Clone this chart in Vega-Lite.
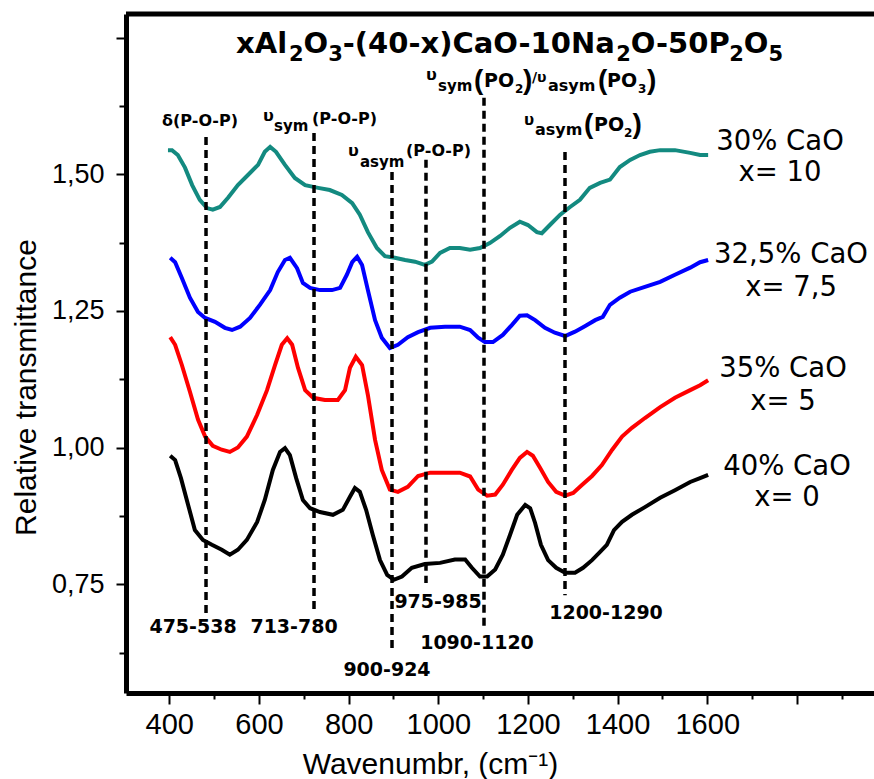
{
"$schema": "https://vega.github.io/schema/vega-lite/v6.json",
"width": 748, "height": 679,
"autosize": {"type": "none"},
"padding": {"left": 126, "top": 14, "right": 0, "bottom": 86},
"background": "white",
"datasets": {
"one": [{}],
"spectra": [
{"s":"30% CaO","w":397,"t":1.544},{"s":"30% CaO","w":406,"t":1.544},{"s":"30% CaO","w":419,"t":1.535},{"s":"30% CaO","w":435,"t":1.512},{"s":"30% CaO","w":451,"t":1.480},{"s":"30% CaO","w":468,"t":1.453},{"s":"30% CaO","w":484,"t":1.438},{"s":"30% CaO","w":497,"t":1.435},{"s":"30% CaO","w":513,"t":1.440},{"s":"30% CaO","w":531,"t":1.457},{"s":"30% CaO","w":553,"t":1.480},{"s":"30% CaO","w":576,"t":1.499},{"s":"30% CaO","w":598,"t":1.517},{"s":"30% CaO","w":613,"t":1.541},{"s":"30% CaO","w":625,"t":1.550},{"s":"30% CaO","w":638,"t":1.541},{"s":"30% CaO","w":658,"t":1.517},{"s":"30% CaO","w":680,"t":1.493},{"s":"30% CaO","w":703,"t":1.480},{"s":"30% CaO","w":732,"t":1.475},{"s":"30% CaO","w":758,"t":1.471},{"s":"30% CaO","w":785,"t":1.462},{"s":"30% CaO","w":808,"t":1.447},{"s":"30% CaO","w":825,"t":1.426},{"s":"30% CaO","w":843,"t":1.394},{"s":"30% CaO","w":863,"t":1.365},{"s":"30% CaO","w":881,"t":1.350},{"s":"30% CaO","w":903,"t":1.347},{"s":"30% CaO","w":926,"t":1.343},{"s":"30% CaO","w":948,"t":1.340},{"s":"30% CaO","w":970,"t":1.334},{"s":"30% CaO","w":986,"t":1.340},{"s":"30% CaO","w":1004,"t":1.356},{"s":"30% CaO","w":1026,"t":1.365},{"s":"30% CaO","w":1048,"t":1.365},{"s":"30% CaO","w":1071,"t":1.362},{"s":"30% CaO","w":1093,"t":1.365},{"s":"30% CaO","w":1115,"t":1.374},{"s":"30% CaO","w":1138,"t":1.387},{"s":"30% CaO","w":1160,"t":1.402},{"s":"30% CaO","w":1182,"t":1.413},{"s":"30% CaO","w":1200,"t":1.407},{"s":"30% CaO","w":1220,"t":1.394},{"s":"30% CaO","w":1231,"t":1.392},{"s":"30% CaO","w":1249,"t":1.407},{"s":"30% CaO","w":1272,"t":1.426},{"s":"30% CaO","w":1294,"t":1.440},{"s":"30% CaO","w":1316,"t":1.453},{"s":"30% CaO","w":1338,"t":1.475},{"s":"30% CaO","w":1361,"t":1.484},{"s":"30% CaO","w":1383,"t":1.490},{"s":"30% CaO","w":1405,"t":1.513},{"s":"30% CaO","w":1428,"t":1.526},{"s":"30% CaO","w":1450,"t":1.535},{"s":"30% CaO","w":1472,"t":1.541},{"s":"30% CaO","w":1495,"t":1.544},{"s":"30% CaO","w":1528,"t":1.544},{"s":"30% CaO","w":1562,"t":1.539},{"s":"30% CaO","w":1584,"t":1.535},{"s":"30% CaO","w":1602,"t":1.535},
{"s":"32,5% CaO","w":402,"t":1.347},{"s":"32,5% CaO","w":413,"t":1.339},{"s":"32,5% CaO","w":428,"t":1.310},{"s":"32,5% CaO","w":446,"t":1.274},{"s":"32,5% CaO","w":464,"t":1.248},{"s":"32,5% CaO","w":480,"t":1.237},{"s":"32,5% CaO","w":502,"t":1.230},{"s":"32,5% CaO","w":524,"t":1.219},{"s":"32,5% CaO","w":540,"t":1.215},{"s":"32,5% CaO","w":558,"t":1.221},{"s":"32,5% CaO","w":580,"t":1.237},{"s":"32,5% CaO","w":602,"t":1.261},{"s":"32,5% CaO","w":625,"t":1.288},{"s":"32,5% CaO","w":642,"t":1.321},{"s":"32,5% CaO","w":658,"t":1.343},{"s":"32,5% CaO","w":669,"t":1.347},{"s":"32,5% CaO","w":685,"t":1.328},{"s":"32,5% CaO","w":698,"t":1.301},{"s":"32,5% CaO","w":714,"t":1.292},{"s":"32,5% CaO","w":736,"t":1.288},{"s":"32,5% CaO","w":763,"t":1.288},{"s":"32,5% CaO","w":781,"t":1.292},{"s":"32,5% CaO","w":796,"t":1.316},{"s":"32,5% CaO","w":808,"t":1.339},{"s":"32,5% CaO","w":819,"t":1.349},{"s":"32,5% CaO","w":830,"t":1.334},{"s":"32,5% CaO","w":843,"t":1.288},{"s":"32,5% CaO","w":859,"t":1.233},{"s":"32,5% CaO","w":874,"t":1.201},{"s":"32,5% CaO","w":892,"t":1.182},{"s":"32,5% CaO","w":910,"t":1.188},{"s":"32,5% CaO","w":932,"t":1.202},{"s":"32,5% CaO","w":955,"t":1.211},{"s":"32,5% CaO","w":982,"t":1.219},{"s":"32,5% CaO","w":1015,"t":1.221},{"s":"32,5% CaO","w":1048,"t":1.221},{"s":"32,5% CaO","w":1071,"t":1.215},{"s":"32,5% CaO","w":1089,"t":1.201},{"s":"32,5% CaO","w":1104,"t":1.193},{"s":"32,5% CaO","w":1122,"t":1.193},{"s":"32,5% CaO","w":1144,"t":1.206},{"s":"32,5% CaO","w":1164,"t":1.224},{"s":"32,5% CaO","w":1182,"t":1.241},{"s":"32,5% CaO","w":1198,"t":1.242},{"s":"32,5% CaO","w":1216,"t":1.233},{"s":"32,5% CaO","w":1238,"t":1.219},{"s":"32,5% CaO","w":1260,"t":1.210},{"s":"32,5% CaO","w":1283,"t":1.204},{"s":"32,5% CaO","w":1305,"t":1.212},{"s":"32,5% CaO","w":1327,"t":1.222},{"s":"32,5% CaO","w":1350,"t":1.233},{"s":"32,5% CaO","w":1367,"t":1.239},{"s":"32,5% CaO","w":1383,"t":1.261},{"s":"32,5% CaO","w":1405,"t":1.274},{"s":"32,5% CaO","w":1428,"t":1.285},{"s":"32,5% CaO","w":1461,"t":1.294},{"s":"32,5% CaO","w":1495,"t":1.303},{"s":"32,5% CaO","w":1528,"t":1.316},{"s":"32,5% CaO","w":1562,"t":1.329},{"s":"32,5% CaO","w":1584,"t":1.339},{"s":"32,5% CaO","w":1602,"t":1.343},
{"s":"35% CaO","w":402,"t":1.202},{"s":"35% CaO","w":413,"t":1.188},{"s":"35% CaO","w":428,"t":1.151},{"s":"35% CaO","w":446,"t":1.102},{"s":"35% CaO","w":464,"t":1.051},{"s":"35% CaO","w":480,"t":1.020},{"s":"35% CaO","w":497,"t":1.003},{"s":"35% CaO","w":517,"t":0.996},{"s":"35% CaO","w":535,"t":0.992},{"s":"35% CaO","w":553,"t":1.000},{"s":"35% CaO","w":573,"t":1.020},{"s":"35% CaO","w":596,"t":1.060},{"s":"35% CaO","w":618,"t":1.105},{"s":"35% CaO","w":636,"t":1.151},{"s":"35% CaO","w":651,"t":1.188},{"s":"35% CaO","w":663,"t":1.200},{"s":"35% CaO","w":674,"t":1.188},{"s":"35% CaO","w":687,"t":1.146},{"s":"35% CaO","w":703,"t":1.105},{"s":"35% CaO","w":721,"t":1.091},{"s":"35% CaO","w":747,"t":1.087},{"s":"35% CaO","w":776,"t":1.087},{"s":"35% CaO","w":792,"t":1.105},{"s":"35% CaO","w":803,"t":1.146},{"s":"35% CaO","w":816,"t":1.166},{"s":"35% CaO","w":830,"t":1.151},{"s":"35% CaO","w":843,"t":1.096},{"s":"35% CaO","w":859,"t":1.014},{"s":"35% CaO","w":874,"t":0.959},{"s":"35% CaO","w":892,"t":0.923},{"s":"35% CaO","w":910,"t":0.919},{"s":"35% CaO","w":932,"t":0.928},{"s":"35% CaO","w":955,"t":0.948},{"s":"35% CaO","w":982,"t":0.954},{"s":"35% CaO","w":1015,"t":0.954},{"s":"35% CaO","w":1048,"t":0.954},{"s":"35% CaO","w":1071,"t":0.947},{"s":"35% CaO","w":1089,"t":0.923},{"s":"35% CaO","w":1109,"t":0.912},{"s":"35% CaO","w":1127,"t":0.914},{"s":"35% CaO","w":1144,"t":0.932},{"s":"35% CaO","w":1164,"t":0.959},{"s":"35% CaO","w":1182,"t":0.981},{"s":"35% CaO","w":1198,"t":0.992},{"s":"35% CaO","w":1211,"t":0.985},{"s":"35% CaO","w":1227,"t":0.963},{"s":"35% CaO","w":1245,"t":0.937},{"s":"35% CaO","w":1263,"t":0.919},{"s":"35% CaO","w":1283,"t":0.912},{"s":"35% CaO","w":1301,"t":0.917},{"s":"35% CaO","w":1321,"t":0.932},{"s":"35% CaO","w":1343,"t":0.948},{"s":"35% CaO","w":1365,"t":0.968},{"s":"35% CaO","w":1388,"t":0.996},{"s":"35% CaO","w":1410,"t":1.020},{"s":"35% CaO","w":1432,"t":1.036},{"s":"35% CaO","w":1461,"t":1.054},{"s":"35% CaO","w":1495,"t":1.074},{"s":"35% CaO","w":1528,"t":1.091},{"s":"35% CaO","w":1562,"t":1.105},{"s":"35% CaO","w":1584,"t":1.114},{"s":"35% CaO","w":1602,"t":1.123},
{"s":"40% CaO","w":402,"t":0.985},{"s":"40% CaO","w":413,"t":0.977},{"s":"40% CaO","w":426,"t":0.944},{"s":"40% CaO","w":442,"t":0.895},{"s":"40% CaO","w":457,"t":0.849},{"s":"40% CaO","w":475,"t":0.831},{"s":"40% CaO","w":495,"t":0.822},{"s":"40% CaO","w":517,"t":0.813},{"s":"40% CaO","w":535,"t":0.804},{"s":"40% CaO","w":553,"t":0.813},{"s":"40% CaO","w":573,"t":0.831},{"s":"40% CaO","w":596,"t":0.864},{"s":"40% CaO","w":613,"t":0.904},{"s":"40% CaO","w":631,"t":0.959},{"s":"40% CaO","w":647,"t":0.992},{"s":"40% CaO","w":658,"t":0.999},{"s":"40% CaO","w":669,"t":0.986},{"s":"40% CaO","w":683,"t":0.944},{"s":"40% CaO","w":698,"t":0.904},{"s":"40% CaO","w":714,"t":0.889},{"s":"40% CaO","w":736,"t":0.882},{"s":"40% CaO","w":765,"t":0.877},{"s":"40% CaO","w":787,"t":0.886},{"s":"40% CaO","w":803,"t":0.910},{"s":"40% CaO","w":814,"t":0.926},{"s":"40% CaO","w":825,"t":0.919},{"s":"40% CaO","w":839,"t":0.886},{"s":"40% CaO","w":854,"t":0.840},{"s":"40% CaO","w":870,"t":0.794},{"s":"40% CaO","w":886,"t":0.767},{"s":"40% CaO","w":901,"t":0.758},{"s":"40% CaO","w":919,"t":0.764},{"s":"40% CaO","w":941,"t":0.780},{"s":"40% CaO","w":970,"t":0.787},{"s":"40% CaO","w":1004,"t":0.789},{"s":"40% CaO","w":1037,"t":0.795},{"s":"40% CaO","w":1060,"t":0.795},{"s":"40% CaO","w":1075,"t":0.780},{"s":"40% CaO","w":1093,"t":0.764},{"s":"40% CaO","w":1109,"t":0.764},{"s":"40% CaO","w":1127,"t":0.777},{"s":"40% CaO","w":1144,"t":0.804},{"s":"40% CaO","w":1160,"t":0.840},{"s":"40% CaO","w":1176,"t":0.877},{"s":"40% CaO","w":1194,"t":0.895},{"s":"40% CaO","w":1205,"t":0.889},{"s":"40% CaO","w":1216,"t":0.862},{"s":"40% CaO","w":1229,"t":0.822},{"s":"40% CaO","w":1245,"t":0.794},{"s":"40% CaO","w":1263,"t":0.780},{"s":"40% CaO","w":1283,"t":0.771},{"s":"40% CaO","w":1305,"t":0.771},{"s":"40% CaO","w":1323,"t":0.780},{"s":"40% CaO","w":1343,"t":0.794},{"s":"40% CaO","w":1361,"t":0.809},{"s":"40% CaO","w":1376,"t":0.822},{"s":"40% CaO","w":1392,"t":0.849},{"s":"40% CaO","w":1410,"t":0.864},{"s":"40% CaO","w":1432,"t":0.877},{"s":"40% CaO","w":1461,"t":0.891},{"s":"40% CaO","w":1495,"t":0.908},{"s":"40% CaO","w":1528,"t":0.922},{"s":"40% CaO","w":1562,"t":0.937},{"s":"40% CaO","w":1584,"t":0.944},{"s":"40% CaO","w":1602,"t":0.950}
]
},
"config": {
"view": {"stroke": null},
"axis": {"grid": false, "domainColor": "black", "tickColor": "black", "labelColor": "black", "titleColor": "black", "labelFont": "Liberation Sans", "titleFont": "Liberation Sans", "titleFontWeight": "normal"},
"text": {"font": "DejaVu Sans", "fontWeight": "bold", "align": "left", "baseline": "alphabetic", "color": "black"}
},
"layer": [
{
"data": {"name": "spectra"},
"mark": {"type": "line", "strokeWidth": 4, "clip": true},
"encoding": {
"x": {"field": "w", "type": "quantitative", "scale": {"domain": [303.4, 1972], "nice": false, "zero": false},
"axis": {"values": [400,500,600,700,800,900,1000,1100,1200,1300,1400,1500,1600,1700,1800,1900], "format": "d",
"labelExpr": "(datum.value % 200 == 0 && datum.value <= 1600) ? datum.label : ''",
"tickSize": {"condition": {"test": "datum.value % 200 == 0", "value": 11}, "value": 6},
"tickWidth": 2, "domainWidth": 5, "labelFontSize": 29, "labelPadding": 6, "labelFlush": false, "labelOverlap": false,
"title": "Wavenumbr, (cm⁻¹)", "titleFontSize": 30, "titleX": 304, "titleY": 80, "titleAlign": "center", "titleBaseline": "alphabetic"}},
"y": {"field": "t", "type": "quantitative", "scale": {"domain": [0.551, 1.793], "nice": false, "zero": false},
"axis": {"values": [0.625,0.75,0.875,1,1.125,1.25,1.375,1.5,1.625,1.75],
"labelExpr": "(datum.value == 0.75 || datum.value == 1 || datum.value == 1.25 || datum.value == 1.5) ? replace(format(datum.value, '.2f'), '.', ',') : ''",
"tickSize": {"condition": {"test": "datum.value == 0.75 || datum.value == 1 || datum.value == 1.25 || datum.value == 1.5 || datum.value == 1.75", "value": 10}, "value": 7},
"tickWidth": 2, "domainWidth": 5, "labelFontSize": 27, "labelPadding": 12, "labelFlush": false, "labelOverlap": false,
"title": "Relative transmittance", "titleFontSize": 30, "titleX": -91, "titleY": 373, "titleAlign": "center", "titleBaseline": "alphabetic", "titleAngle": -90}},
"color": {"field": "s", "type": "nominal", "scale": {"domain": ["30% CaO","32,5% CaO","35% CaO","40% CaO"], "range": ["#138a80","#0000ff","#ff0000","#000000"]}, "legend": null}
}
},
{"data": {"name": "one"}, "mark": {"type": "rule", "strokeWidth": 5, "color": "black"}, "encoding": {"y": {"datum": 1.793}}},
{"data": {"name": "one"}, "mark": {"type": "rule", "strokeDash": [8,5], "strokeWidth": 3.5, "color": "black"}, "encoding": {"x": {"datum": 481.9}, "y": {"datum": 1.568}, "y2": {"datum": 0.6975}}},
{"data": {"name": "one"}, "mark": {"type": "rule", "strokeDash": [8,5], "strokeWidth": 3.5, "color": "black"}, "encoding": {"x": {"datum": 722.8}, "y": {"datum": 1.5755}, "y2": {"datum": 0.6993}}},
{"data": {"name": "one"}, "mark": {"type": "rule", "strokeDash": [8,5], "strokeWidth": 3.5, "color": "black"}, "encoding": {"x": {"datum": 896.8}, "y": {"datum": 1.5042}, "y2": {"datum": 0.6297}}},
{"data": {"name": "one"}, "mark": {"type": "rule", "strokeDash": [8,5], "strokeWidth": 3.5, "color": "black"}, "encoding": {"x": {"datum": 972.6}, "y": {"datum": 1.5262}, "y2": {"datum": 0.7523}}},
{"data": {"name": "one"}, "mark": {"type": "rule", "strokeDash": [8,5], "strokeWidth": 3.5, "color": "black"}, "encoding": {"x": {"datum": 1102}, "y": {"datum": 1.6396}, "y2": {"datum": 0.6677}}},
{"data": {"name": "one"}, "mark": {"type": "rule", "strokeDash": [8,5], "strokeWidth": 3.5, "color": "black"}, "encoding": {"x": {"datum": 1282.7}, "y": {"datum": 1.5408}, "y2": {"datum": 0.7299}}},
{"data": {"name": "one"}, "mark": {"type": "text", "text": "475-538", "fontSize": 19, "align": "center", "baseline": "middle"}, "encoding": {"x": {"datum": 452.9}, "y": {"datum": 0.6717}}},
{"data": {"name": "one"}, "mark": {"type": "text", "text": "713-780", "fontSize": 19, "align": "center", "baseline": "middle"}, "encoding": {"x": {"datum": 678.2}, "y": {"datum": 0.6717}}},
{"data": {"name": "one"}, "mark": {"type": "text", "text": "900-924", "fontSize": 19, "align": "center", "baseline": "middle"}, "encoding": {"x": {"datum": 885.6}, "y": {"datum": 0.593}}},
{"data": {"name": "one"}, "mark": {"type": "text", "text": "975-985", "fontSize": 19, "align": "center", "baseline": "middle"}, "encoding": {"x": {"datum": 999.4}, "y": {"datum": 0.7174}}},
{"data": {"name": "one"}, "mark": {"type": "text", "text": "1090-1120", "fontSize": 19, "align": "center", "baseline": "middle"}, "encoding": {"x": {"datum": 1086.4}, "y": {"datum": 0.6424}}},
{"data": {"name": "one"}, "mark": {"type": "text", "text": "1200-1290", "fontSize": 19, "align": "center", "baseline": "middle"}, "encoding": {"x": {"datum": 1374.2}, "y": {"datum": 0.6973}}},
{"data": {"name": "one"}, "mark": {"type": "text", "text": "xAl", "fontSize": 29}, "encoding": {"x": {"datum": 548.8}, "y": {"datum": 1.7219}}},
{"data": {"name": "one"}, "mark": {"type": "text", "text": "2", "fontSize": 21}, "encoding": {"x": {"datum": 667.0}, "y": {"datum": 1.7072}}},
{"data": {"name": "one"}, "mark": {"type": "text", "text": "O", "fontSize": 29}, "encoding": {"x": {"datum": 699.6}, "y": {"datum": 1.7219}}},
{"data": {"name": "one"}, "mark": {"type": "text", "text": "3", "fontSize": 21}, "encoding": {"x": {"datum": 754.6}, "y": {"datum": 1.7072}}},
{"data": {"name": "one"}, "mark": {"type": "text", "text": "-(40-x)CaO-10Na", "fontSize": 29}, "encoding": {"x": {"datum": 787.1}, "y": {"datum": 1.7219}}},
{"data": {"name": "one"}, "mark": {"type": "text", "text": "2", "fontSize": 21}, "encoding": {"x": {"datum": 1397.0}, "y": {"datum": 1.7072}}},
{"data": {"name": "one"}, "mark": {"type": "text", "text": "O-50P", "fontSize": 29}, "encoding": {"x": {"datum": 1429.6}, "y": {"datum": 1.7219}}},
{"data": {"name": "one"}, "mark": {"type": "text", "text": "2", "fontSize": 21}, "encoding": {"x": {"datum": 1648.9}, "y": {"datum": 1.7072}}},
{"data": {"name": "one"}, "mark": {"type": "text", "text": "O", "fontSize": 29}, "encoding": {"x": {"datum": 1681.5}, "y": {"datum": 1.7219}}},
{"data": {"name": "one"}, "mark": {"type": "text", "text": "5", "fontSize": 21}, "encoding": {"x": {"datum": 1736.4}, "y": {"datum": 1.7072}}},
{"data": {"name": "one"}, "mark": {"type": "text", "text": "δ(P-O-P)", "fontSize": 16, "align": "center"}, "encoding": {"x": {"datum": 468.5}, "y": {"datum": 1.5884}}},
{"data": {"name": "one"}, "mark": {"type": "text", "text": "υ", "fontSize": 16}, "encoding": {"x": {"datum": 609.0}, "y": {"datum": 1.5975}}},
{"data": {"name": "one"}, "mark": {"type": "text", "text": "sym", "fontSize": 15}, "encoding": {"x": {"datum": 633.6}, "y": {"datum": 1.5792}}},
{"data": {"name": "one"}, "mark": {"type": "text", "text": "(P-O-P)", "fontSize": 16}, "encoding": {"x": {"datum": 718.3}, "y": {"datum": 1.5927}}},
{"data": {"name": "one"}, "mark": {"type": "text", "text": "υ", "fontSize": 16}, "encoding": {"x": {"datum": 798.6}, "y": {"datum": 1.5335}}},
{"data": {"name": "one"}, "mark": {"type": "text", "text": "asym", "fontSize": 15}, "encoding": {"x": {"datum": 825.4}, "y": {"datum": 1.5134}}},
{"data": {"name": "one"}, "mark": {"type": "text", "text": "(P-O-P)", "fontSize": 16}, "encoding": {"x": {"datum": 928.0}, "y": {"datum": 1.5335}}},
{"data": {"name": "one"}, "mark": {"type": "text", "text": "υ", "fontSize": 16}, "encoding": {"x": {"datum": 972.6}, "y": {"datum": 1.6725}}},
{"data": {"name": "one"}, "mark": {"type": "text", "text": "sym", "fontSize": 15}, "encoding": {"x": {"datum": 999.4}, "y": {"datum": 1.6523}}},
{"data": {"name": "one"}, "mark": {"type": "text", "text": "(", "fontSize": 28, "font": "Liberation Sans"}, "encoding": {"x": {"datum": 1079.7}, "y": {"datum": 1.656}}},
{"data": {"name": "one"}, "mark": {"type": "text", "text": "PO", "fontSize": 19}, "encoding": {"x": {"datum": 1102.0}, "y": {"datum": 1.6597}}},
{"data": {"name": "one"}, "mark": {"type": "text", "text": "2", "fontSize": 12}, "encoding": {"x": {"datum": 1171.2}, "y": {"datum": 1.6487}}},
{"data": {"name": "one"}, "mark": {"type": "text", "text": ")", "fontSize": 28, "font": "Liberation Sans"}, "encoding": {"x": {"datum": 1189.0}, "y": {"datum": 1.656}}},
{"data": {"name": "one"}, "mark": {"type": "text", "text": "/υ", "fontSize": 14}, "encoding": {"x": {"datum": 1209.1}, "y": {"datum": 1.6688}}},
{"data": {"name": "one"}, "mark": {"type": "text", "text": "asym", "fontSize": 16}, "encoding": {"x": {"datum": 1244.8}, "y": {"datum": 1.6523}}},
{"data": {"name": "one"}, "mark": {"type": "text", "text": "(", "fontSize": 28, "font": "Liberation Sans"}, "encoding": {"x": {"datum": 1356.3}, "y": {"datum": 1.656}}},
{"data": {"name": "one"}, "mark": {"type": "text", "text": "PO", "fontSize": 19}, "encoding": {"x": {"datum": 1376.4}, "y": {"datum": 1.6597}}},
{"data": {"name": "one"}, "mark": {"type": "text", "text": "3", "fontSize": 12}, "encoding": {"x": {"datum": 1445.6}, "y": {"datum": 1.6487}}},
{"data": {"name": "one"}, "mark": {"type": "text", "text": ")", "fontSize": 28, "font": "Liberation Sans"}, "encoding": {"x": {"datum": 1465.6}, "y": {"datum": 1.656}}},
{"data": {"name": "one"}, "mark": {"type": "text", "text": "υ", "fontSize": 15}, "encoding": {"x": {"datum": 1191.3}, "y": {"datum": 1.5902}}},
{"data": {"name": "one"}, "mark": {"type": "text", "text": "asym", "fontSize": 16}, "encoding": {"x": {"datum": 1215.8}, "y": {"datum": 1.5718}}},
{"data": {"name": "one"}, "mark": {"type": "text", "text": "(", "fontSize": 28, "font": "Liberation Sans"}, "encoding": {"x": {"datum": 1325.1}, "y": {"datum": 1.5755}}},
{"data": {"name": "one"}, "mark": {"type": "text", "text": "PO", "fontSize": 19}, "encoding": {"x": {"datum": 1347.4}, "y": {"datum": 1.5792}}},
{"data": {"name": "one"}, "mark": {"type": "text", "text": "2", "fontSize": 12}, "encoding": {"x": {"datum": 1414.4}, "y": {"datum": 1.5682}}},
{"data": {"name": "one"}, "mark": {"type": "text", "text": ")", "fontSize": 28, "font": "Liberation Sans"}, "encoding": {"x": {"datum": 1433.3}, "y": {"datum": 1.5755}}},
{"data": {"name": "one"}, "mark": {"type": "text", "text": ["30% CaO", "x= 10"], "fontSize": 27.5, "fontWeight": "normal", "align": "center", "lineHeight": 31}, "encoding": {"x": {"datum": 1762.3}, "y": {"datum": 1.5444}}},
{"data": {"name": "one"}, "mark": {"type": "text", "text": ["32,5% CaO", "x= 7,5"], "fontSize": 27.5, "fontWeight": "normal", "align": "center", "lineHeight": 33}, "encoding": {"x": {"datum": 1786.9}, "y": {"datum": 1.3378}}},
{"data": {"name": "one"}, "mark": {"type": "text", "text": ["35% CaO", "x= 5"], "fontSize": 27.5, "fontWeight": "normal", "align": "center", "lineHeight": 33}, "encoding": {"x": {"datum": 1769}, "y": {"datum": 1.1294}}},
{"data": {"name": "one"}, "mark": {"type": "text", "text": ["40% CaO", "x= 0"], "fontSize": 27.5, "fontWeight": "normal", "align": "center", "lineHeight": 31}, "encoding": {"x": {"datum": 1778}, "y": {"datum": 0.9497}}}
]
}
